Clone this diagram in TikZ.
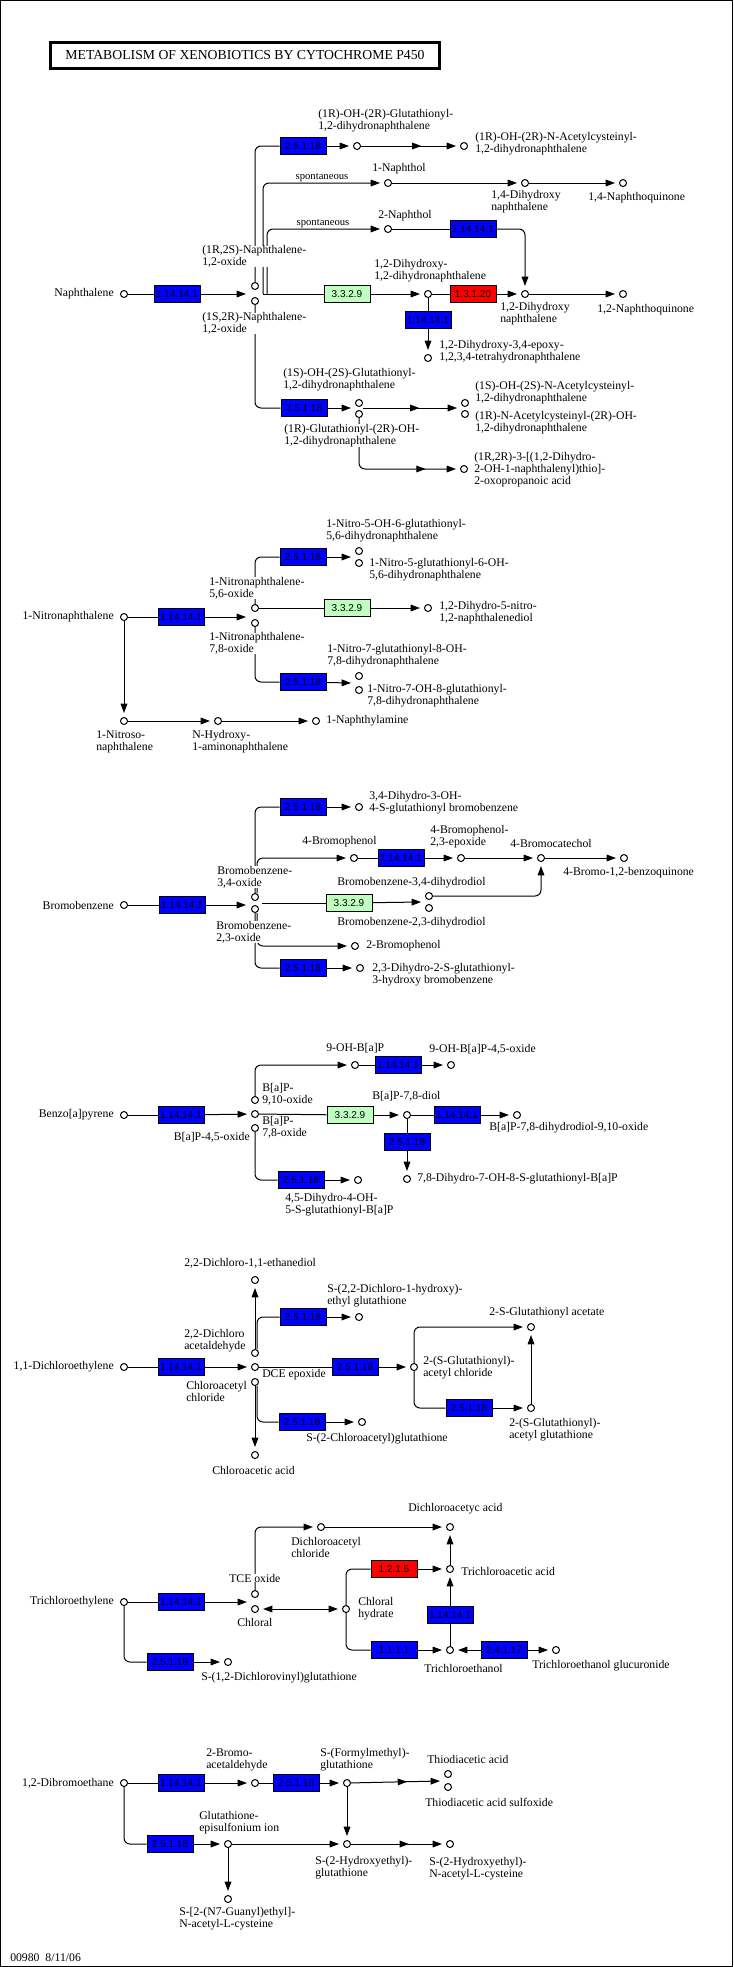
\documentclass[tikz,border=0pt]{standalone}
\usepackage{fontspec}
\setmainfont{Liberation Serif}
\newfontfamily\enzfont{Liberation Sans}
\usetikzlibrary{arrows.meta,decorations.markings}
\definecolor{kgblue}{RGB}{0,0,255}
\definecolor{kggreen}{RGB}{191,255,191}
\definecolor{kgred}{RGB}{255,0,0}

\begin{document}
\begin{tikzpicture}[x=0.75pt,y=-0.75pt,
  cpd/.style={circle,draw,line width=0.75pt,inner sep=0pt,minimum size=5.25pt},
  enz/.style={draw,line width=0.75pt,fill=kgblue,minimum width=34.5pt,minimum height=12.75pt,inner sep=0pt,font=\enzfont\fontsize{7.5}{8}\selectfont},
  enzg/.style={enz,fill=kggreen},
  enzr/.style={enz,fill=kgred},
  lbl/.style={fill=white,inner sep=0pt,align=left,anchor=west,font=\fontsize{8.8}{9}\selectfont},
  lble/.style={lbl,anchor=east},
  spon/.style={inner sep=0.75pt,anchor=south,font=\fontsize{8}{9}\selectfont},
  rxn/.style={line width=0.75pt},
  >={Triangle[length=7pt,width=5pt]},
  arr/.style={rxn,->,shorten >=3pt},
  midarr/.style={postaction={decorate},decoration={markings,mark=at position #1 with {\arrow{>}}}},
  corner/.style={rounded corners=4.5pt}]

\useasboundingbox (0,0) rectangle (733,1967);
\draw[line width=0.75pt] (0.5,0.5) rectangle (732.5,1966.5);

% title
\draw[line width=2.25pt] (50,42) rectangle (439,68);
\node[font=\fontsize{10.3}{12}\selectfont] (title) at (245,55) {METABOLISM OF XENOBIOTICS BY CYTOCHROME P450};

% ---------- naphthalene
\node[cpd] (nA) at (124,294) {};
\node[cpd] (nB) at (255,286) {};
\node[cpd] (nC) at (255,301) {};
\node[cpd] (nD) at (357,146) {};
\node[cpd] (nE) at (464,146) {};
\node[cpd] (nF) at (388,183) {};
\node[cpd] (nG) at (525,183) {};
\node[cpd] (nH) at (623,183) {};
\node[cpd] (nI) at (388,229) {};
\node[cpd] (nJ) at (428,294) {};
\node[cpd] (nK) at (525,294) {};
\node[cpd] (nL) at (623,294) {};
\node[cpd] (nM) at (428,358) {};
\node[cpd] (nN) at (359,403) {};
\node[cpd] (nO) at (359,414) {};
\node[cpd] (nP) at (465,403) {};
\node[cpd] (nQ) at (465,414) {};
\node[cpd] (nR) at (464,469) {};

\node[enz] (nE1) at (177,294) {1.14.14.1};
\node[enz] (nE2) at (303,146) {2.5.1.18};
\node[enz] (nE3) at (473,229) {1.14.14.1};
\node[enzg] (nE4) at (347,294) {3.3.2.9};
\node[enzr] (nE5) at (473,294) {1.3.1.20};
\node[enz] (nE6) at (428,320) {1.14.14.1};
\node[enz] (nE7) at (304,408) {2.5.1.18};

\coordinate (nAx) at (246,294);
\coordinate (nV1) at (263,294);
\coordinate (nV2) at (267,294);
\coordinate (nNOx) at (351,408);
\coordinate (nNOr) at (363,408);
\coordinate (nPQx) at (457,408);

\path[rxn] (nA) edge (nE1);
\path[rxn,->] (nE1) edge (nAx);
\draw[rxn,corner] (nB) |- (nE2);
\path[arr] (nE2) edge (nD);
\draw[arr,midarr=0.61] (nD) -- (nE);
\draw[arr,corner] (nV1) |- (nF);
\draw[arr,corner] (nV2) |- (nI);
\path[arr] (nF) edge (nG) (nG) edge (nH);
\path[rxn] (nI) edge (nE3);
\draw[arr,corner] (nE3) -| (nK);
\path[rxn] (nV1) edge (nE4);
\path[arr] (nE4) edge (nJ);
\path[rxn] (nJ) edge (nE5) (nJ) edge (nE6);
\path[arr] (nE5) edge (nK) (nK) edge (nL) (nE6) edge (nM);
\draw[rxn,corner] (nC) |- (nE7);
\path[rxn,->] (nE7) edge (nNOx);
\draw[rxn,->,midarr=0.6] (nNOr) -- (nPQx);
\draw[arr,corner,midarr=0.77] (nO) |- (nR);

\node[spon] (nS1) at (322,183) {spontaneous};
\node[spon] (nS2) at (323,229) {spontaneous};

% ---------- 1-nitronaphthalene
\node[cpd] (mA) at (124,617) {};
\node[cpd] (mB) at (255,608) {};
\node[cpd] (mC) at (255,623) {};
\node[cpd] (mD) at (359,551) {};
\node[cpd] (mE) at (359,563) {};
\node[cpd] (mF) at (428,608) {};
\node[cpd] (mG) at (359,676) {};
\node[cpd] (mH) at (359,690) {};
\node[cpd] (mI) at (124,721) {};
\node[cpd] (mJ) at (218,721) {};
\node[cpd] (mK) at (316,721) {};

\node[enz] (mE1) at (181,617) {1.14.14.1};
\node[enz] (mE2) at (303,557) {2.5.1.18};
\node[enzg] (mE3) at (347,608) {3.3.2.9};
\node[enz] (mE4) at (303,682) {2.5.1.18};

\coordinate (mAx) at (246,617);
\coordinate (mDEx) at (351,557);
\coordinate (mGHx) at (351,683);

\path[rxn] (mA) edge (mE1);
\path[rxn,->] (mE1) edge (mAx);
\draw[rxn,corner] (mB) |- (mE2);
\path[rxn,->] (mE2) edge (mDEx);
\path[rxn] (mB) edge (mE3);
\path[arr] (mE3) edge (mF);
\draw[rxn,corner] (mC) |- (mE4);
\path[rxn,->] (mE4) edge (mGHx);
\path[arr] (mA) edge (mI) (mI) edge (mJ) (mJ) edge (mK);

% ---------- bromobenzene
\node[cpd] (bA) at (124,905) {};
\node[cpd] (bB) at (255,897) {};
\node[cpd] (bC) at (255,909) {};
\node[cpd] (bD) at (359,807) {};
\node[cpd] (bF) at (354,858) {};
\node[cpd] (bG) at (461,858) {};
\node[cpd] (bH) at (541,858) {};
\node[cpd] (bI) at (624,858) {};
\node[cpd] (bJ) at (429,896) {};
\node[cpd] (bK) at (429,908) {};
\node[cpd] (bL) at (355,946) {};
\node[cpd] (bM) at (360,968) {};

\node[enz] (bE1) at (182,905) {1.14.14.1};
\node[enz] (bE2) at (303,807) {2.5.1.18};
\node[enz] (bE3) at (401,858) {1.14.14.1};
\node[enzg] (bE4) at (349,903) {3.3.2.9};
\node[enz] (bE5) at (303,968) {2.5.1.18};

\coordinate (bAx) at (246,905);
\coordinate (bBC) at (262,903);
\coordinate (bJKx) at (421,902);

\path[rxn] (bA) edge (bE1);
\path[rxn,->] (bE1) edge (bAx);
\draw[rxn,corner] (bB) |- (bE2);
\path[arr] (bE2) edge (bD);
\draw[arr,corner] ([xshift=1.5pt]bB.north) |- (bF);
\path[rxn] (bF) edge (bE3);
\path[arr] (bE3) edge (bG) (bG) edge (bH) (bH) edge (bI);
\path[rxn] (bBC) edge (bE4);
\path[rxn,->] (bE4) edge (bJKx);
\draw[arr,corner] (bJ) -| (bH);
\draw[arr,corner] ([xshift=1.5pt]bC.south) |- (bL);
\draw[rxn,corner] (bC) |- (bE5);
\path[arr] (bE5) edge (bM);

% ---------- benzo[a]pyrene
\node[cpd] (pA) at (124,1115) {};
\node[cpd] (pB) at (255,1100) {};
\node[cpd] (pC) at (255,1114) {};
\node[cpd] (pD) at (255,1128) {};
\node[cpd] (pE) at (355,1065) {};
\node[cpd] (pF) at (451,1065) {};
\node[cpd] (pG) at (407,1115) {};
\node[cpd] (pH) at (517,1115) {};
\node[cpd] (pI) at (407,1179) {};
\node[cpd] (pJ) at (358,1180) {};

\node[enz] (pE1) at (181,1115) {1.14.14.1};
\node[enz] (pE2) at (398,1065) {1.14.14.1};
\node[enzg] (pE3) at (350,1115) {3.3.2.9};
\node[enz] (pE4) at (457,1115) {1.14.14.1};
\node[enz] (pE5) at (407,1142) {2.5.1.18};
\node[enz] (pE6) at (301,1180) {2.5.1.18};

\path[rxn] (pA) edge (pE1);
\path[arr] (pE1) edge (pC);
\draw[arr,corner] (pB) |- (pE);
\path[rxn] (pE) edge (pE2) (pC) edge (pE3) (pG) edge (pE4) (pG) edge (pE5);
\path[arr] (pE2) edge (pF) (pE3) edge (pG) (pE4) edge (pH) (pE5) edge (pI);
\draw[rxn,corner] (pD) |- (pE6);
\path[arr] (pE6) edge (pJ);

% ---------- 1,1-dichloroethylene
\node[cpd] (dA) at (124,1367) {};
\node[cpd] (dB) at (255,1353) {};
\node[cpd] (dC) at (255,1367) {};
\node[cpd] (dD) at (255,1382) {};
\node[cpd] (dE) at (255,1280) {};
\node[cpd] (dF) at (359,1317) {};
\node[cpd] (dG) at (414,1367) {};
\node[cpd] (dH) at (531,1327) {};
\node[cpd] (dI) at (531,1408) {};
\node[cpd] (dJ) at (255,1455) {};
\node[cpd] (dK) at (362,1422) {};

\node[enz] (dE1) at (181,1367) {1.14.14.1};
\node[enz] (dE2) at (303,1317) {2.5.1.18};
\node[enz] (dE3) at (355,1367) {2.5.1.18};
\node[enz] (dE4) at (469,1408) {2.5.1.18};
\node[enz] (dE5) at (302,1422) {2.5.1.18};

\path[rxn] (dA) edge (dE1);
\path[arr] (dE1) edge (dC);
\path[arr] (dB) edge (dE);
\draw[rxn,corner] ([xshift=1.5pt]dB.north) |- (dE2);
\path[arr] (dE2) edge (dF);
\path[rxn] (dC) edge (dE3);
\path[arr] (dE3) edge (dG);
\draw[arr,corner] (dG) |- (dH);
\draw[rxn,corner] (dG) |- (dE4);
\path[arr] (dE4) edge (dI) (dI) edge (dH);
\path[arr] (dD) edge (dJ);
\draw[rxn,corner] ([xshift=1.5pt]dD.south) |- (dE5);
\path[arr] (dE5) edge (dK);

% ---------- trichloroethylene
\node[cpd] (cA) at (124,1602) {};
\node[cpd] (cB) at (255,1594) {};
\node[cpd] (cC) at (255,1609) {};
\node[cpd] (cD) at (321,1527) {};
\node[cpd] (cE) at (450,1527) {};
\node[cpd] (cF) at (346,1609) {};
\node[cpd] (cG) at (450,1569) {};
\node[cpd] (cH) at (450,1650) {};
\node[cpd] (cI) at (556,1650) {};
\node[cpd] (cJ) at (228,1662) {};

\node[enz] (cE1) at (181,1602) {1.14.14.1};
\node[enzr] (cE2) at (394,1569) {1.2.1.5};
\node[enz] (cE3) at (394,1650) {1.1.1.1};
\node[enz] (cE4) at (450,1615) {1.14.14.1};
\node[enz] (cE5) at (504,1650) {2.4.1.17};
\node[enz] (cE6) at (170,1662) {2.5.1.18};

\coordinate (cAx) at (247,1602);

\path[rxn] (cA) edge (cE1);
\path[rxn,->] (cE1) edge (cAx);
\draw[arr,corner] (cB) |- (cD);
\path[arr] (cD) edge (cE);
\path[arr,<->,shorten <=3pt] (cC) edge (cF);
\draw[rxn,corner] (cF) |- (cE2);
\draw[rxn,corner] (cF) |- (cE3);
\path[rxn] (cH) edge (cE4);
\path[arr] (cE2) edge (cG) (cE3) edge (cH) (cE4) edge (cG) (cG) edge (cE)
  (cE5) edge (cH) (cE5) edge (cI);
\draw[rxn,corner] (cA) |- (cE6);
\path[arr] (cE6) edge (cJ);

% ---------- 1,2-dibromoethane
\node[cpd] (eA) at (124,1783) {};
\node[cpd] (eB) at (255,1783) {};
\node[cpd] (eC) at (347,1783) {};
\node[cpd] (eD) at (448,1774) {};
\node[cpd] (eE) at (448,1787) {};
\node[cpd] (eF) at (228,1844) {};
\node[cpd] (eG) at (347,1844) {};
\node[cpd] (eH) at (450,1844) {};
\node[cpd] (eI) at (228,1899) {};

\node[enz] (eE1) at (181,1783) {1.14.14.1};
\node[enz] (eE2) at (296,1783) {2.5.1.18};
\node[enz] (eE3) at (170,1844) {2.5.1.18};

\coordinate (eDEx) at (440,1781);

\path[rxn] (eA) edge (eE1) (eB) edge (eE2);
\path[arr] (eE1) edge (eB) (eE2) edge (eC) (eC) edge (eG);
\draw[rxn,->,midarr=0.63] (eC) -- (eDEx);
\draw[rxn,corner] (eA) |- (eE3);
\path[arr] (eE3) edge (eF) (eF) edge (eG) (eF) edge (eI);
\draw[arr,midarr=0.61] (eG) -- (eH);

% ---------- names
\node[lble] (nAl) at (114,294) {Naphthalene};
\node[lbl] (nBl) at (202,256.5) {(1R,2S)-Naphthalene-\\1,2-oxide};
\node[lbl] (nCl) at (202,323.5) {(1S,2R)-Naphthalene-\\1,2-oxide};
\node[lbl] (nDl) at (318,121) {(1R)-OH-(2R)-Glutathionyl-\\1,2-dihydronaphthalene};
\node[lbl] (nEl) at (475,144) {(1R)-OH-(2R)-N-Acetylcysteinyl-\\1,2-dihydronaphthalene};
\node[lbl] (nFl) at (372,169) {1-Naphthol};
\node[lbl] (nGl) at (491,202) {1,4-Dihydroxy\\naphthalene};
\node[lbl] (nHl) at (588,198) {1,4-Naphthoquinone};
\node[lbl] (nIl) at (378,216) {2-Naphthol};
\node[lbl] (nJl) at (374,271) {1,2-Dihydroxy-\\1,2-dihydronaphthalene};
\node[lbl] (nKl) at (500,314) {1,2-Dihydroxy\\naphthalene};
\node[lbl] (nLl) at (597,310) {1,2-Naphthoquinone};
\node[lbl] (nMl) at (439,352) {1,2-Dihydroxy-3,4-epoxy-\\1,2,3,4-tetrahydronaphthalene};
\node[lbl] (nNl) at (283,380) {(1S)-OH-(2S)-Glutathionyl-\\1,2-dihydronaphthalene};
\node[lbl] (nOl) at (284,435.5) {(1R)-Glutathionyl-(2R)-OH-\\1,2-dihydronaphthalene};
\node[lbl] (nPl) at (475,393) {(1S)-OH-(2S)-N-Acetylcysteinyl-\\1,2-dihydronaphthalene};
\node[lbl] (nQl) at (475,423) {(1R)-N-Acetylcysteinyl-(2R)-OH-\\1,2-dihydronaphthalene};
\node[lbl] (nRl) at (474,470) {(1R,2R)-3-[(1,2-Dihydro-\\2-OH-1-naphthalenyl)thio]-\\2-oxopropanoic acid};

\node[lble] (mAl) at (114,617) {1-Nitronaphthalene};
\node[lbl] (mBl) at (209,588) {1-Nitronaphthalene-\\5,6-oxide};
\node[lbl] (mCl) at (209,643.5) {1-Nitronaphthalene-\\7,8-oxide};
\node[lbl] (mDl) at (326,531) {1-Nitro-5-OH-6-glutathionyl-\\5,6-dihydronaphthalene};
\node[lbl] (mEl) at (369,569.5) {1-Nitro-5-glutathionyl-6-OH-\\5,6-dihydronaphthalene};
\node[lbl] (mFl) at (439,613) {1,2-Dihydro-5-nitro-\\1,2-naphthalenediol};
\node[lbl] (mGl) at (327,656) {1-Nitro-7-glutathionyl-8-OH-\\7,8-dihydronaphthalene};
\node[lbl] (mHl) at (367,695.5) {1-Nitro-7-OH-8-glutathionyl-\\7,8-dihydronaphthalene};
\node[lbl] (mIl) at (96,742) {1-Nitroso-\\naphthalene};
\node[lbl] (mJl) at (192,742) {N-Hydroxy-\\1-aminonaphthalene};
\node[lbl] (mKl) at (326,721) {1-Naphthylamine};

\node[lble] (bAl) at (114,905) {Bromobenzene};
\node[lbl] (bBl) at (217,877) {Bromobenzene-\\3,4-oxide};
\node[lbl] (bCl) at (216,932) {Bromobenzene-\\2,3-oxide};
\node[lbl] (bDl) at (369,803) {3,4-Dihydro-3-OH-\\4-S-glutathionyl bromobenzene};
\node[lbl] (bFl) at (302,842) {4-Bromophenol};
\node[lbl] (bGl) at (430,837) {4-Bromophenol-\\2,3-epoxide};
\node[lbl] (bHl) at (510,843) {4-Bromocatechol};
\node[lbl] (bIl) at (563,873) {4-Bromo-1,2-benzoquinone};
\node[lbl] (bJl) at (337,883) {Bromobenzene-3,4-dihydrodiol};
\node[lbl] (bKl) at (337,923) {Bromobenzene-2,3-dihydrodiol};
\node[lbl] (bLl) at (366,946) {2-Bromophenol};
\node[lbl] (bMl) at (372,974.5) {2,3-Dihydro-2-S-glutathionyl-\\3-hydroxy bromobenzene};

\node[lble] (pAl) at (114,1115) {Benzo[a]pyrene};
\node[lbl] (pBl) at (262,1094) {B[a]P-\\9,10-oxide};
\node[lbl] (pCl) at (262,1127) {B[a]P-\\7,8-oxide};
\node[lble] (pDl) at (250,1137) {B[a]P-4,5-oxide};
\node[lbl] (pEl) at (326,1048) {9-OH-B[a]P};
\node[lbl] (pFl) at (429,1049) {9-OH-B[a]P-4,5-oxide};
\node[lbl] (pGl) at (372,1096) {B[a]P-7,8-diol};
\node[lbl] (pHl) at (489,1128) {B[a]P-7,8-dihydrodiol-9,10-oxide};
\node[lbl] (pIl) at (417,1179) {7,8-Dihydro-7-OH-8-S-glutathionyl-B[a]P};
\node[lbl] (pJl) at (285,1205) {4,5-Dihydro-4-OH-\\5-S-glutathionyl-B[a]P};

\node[lble] (dAl) at (114,1367) {1,1-Dichloroethylene};
\node[lbl] (dEl) at (184,1263) {2,2-Dichloro-1,1-ethanediol};
\node[lbl] (dBl) at (184,1341) {2,2-Dichloro\\acetaldehyde};
\node[lbl] (dCl) at (262,1375) {DCE epoxide};
\node[lbl] (dDl) at (186,1391) {Chloroacetyl\\chloride};
\node[lbl] (dFl) at (327,1296) {S-(2,2-Dichloro-1-hydroxy)-\\ethyl glutathione};
\node[lbl] (dGl) at (423,1367.5) {2-(S-Glutathionyl)-\\acetyl chloride};
\node[lbl] (dHl) at (489,1313) {2-S-Glutathionyl acetate};
\node[lbl] (dIl) at (509,1430) {2-(S-Glutathionyl)-\\acetyl glutathione};
\node[lbl] (dKl) at (306,1439) {S-(2-Chloroacetyl)glutathione};
\node[lbl] (dJl) at (212,1470) {Chloroacetic acid};

\node[lble] (cAl) at (114,1602) {Trichloroethylene};
\node[lbl] (cBl) at (229,1578) {TCE oxide};
\node[lbl] (cCl) at (237,1622) {Chloral};
\node[lbl] (cDl) at (291,1547) {Dichloroacetyl\\chloride};
\node[lbl] (cEl) at (408,1509) {Dichloroacetyc acid};
\node[lbl] (cFl) at (358,1609) {Chloral\\hydrate};
\node[lbl] (cGl) at (461,1571) {Trichloroacetic acid};
\node[lbl] (cHl) at (424,1668) {Trichloroethanol};
\node[lbl] (cIl) at (532,1666) {Trichloroethanol glucuronide};
\node[lbl] (cJl) at (201,1678) {S-(1,2-Dichlorovinyl)glutathione};

\node[lble] (eAl) at (114,1783) {1,2-Dibromoethane};
\node[lbl] (eBl) at (206,1760) {2-Bromo-\\acetaldehyde};
\node[lbl] (eCl) at (320,1760) {S-(Formylmethyl)-\\glutathione};
\node[lbl] (eDl) at (427,1759) {Thiodiacetic acid};
\node[lbl] (eEl) at (425,1802) {Thiodiacetic acid sulfoxide};
\node[lbl] (eFl) at (199,1822.5) {Glutathione-\\episulfonium ion};
\node[lbl] (eGl) at (315,1867.5) {S-(2-Hydroxyethyl)-\\glutathione};
\node[lbl] (eHl) at (429,1868.5) {S-(2-Hydroxyethyl)-\\N-acetyl-L-cysteine};
\node[lbl] (eIl) at (179,1918.5) {S-[2-(N7-Guanyl)ethyl]-\\N-acetyl-L-cysteine};

\node[lbl] (foot) at (10,1958) {00980\ \ 8/11/06};
\end{tikzpicture}
\end{document}
